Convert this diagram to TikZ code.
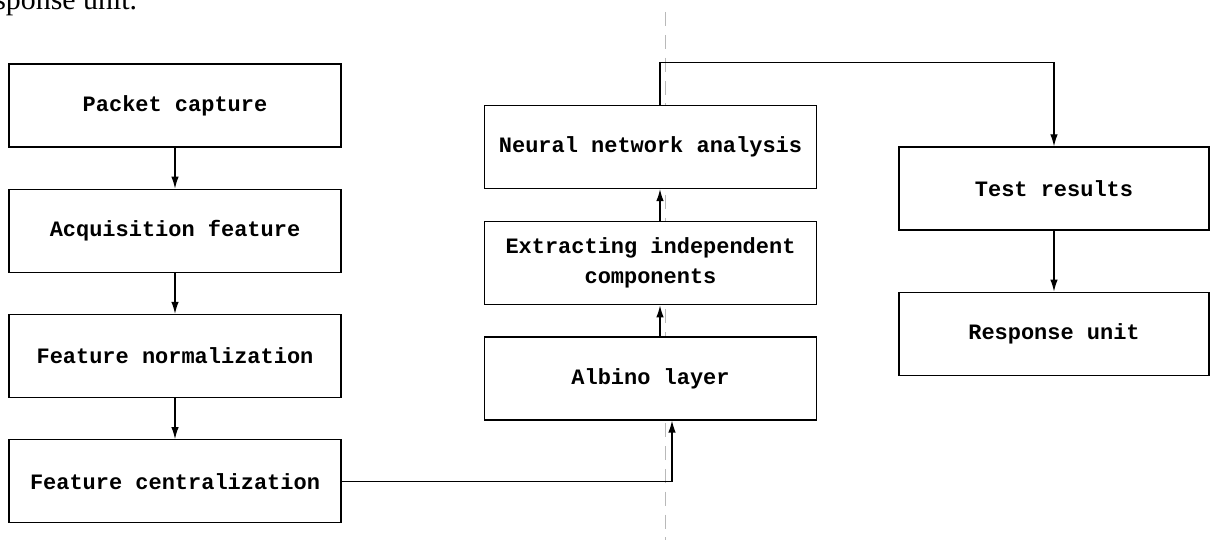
\documentclass[tikz,border=0pt]{standalone}
\usepackage{fontspec}
\setmonofont{Liberation Mono}
\newfontfamily\captionfont{Liberation Serif}
\usetikzlibrary{positioning, arrows.meta, calc}
\tikzset{node distance=0.82cm, % Gap between two boxes of a column
box/.style={ % Sets the properties for each step
draw, line width=0.7pt, fill=white,
minimum width=6.64cm, minimum height=1.66cm,
align=center,
font=\ttfamily\bfseries\fontsize{12.5}{17}\selectfont},
>={Latex[length=2.4mm,width=1.5mm]}, % Filled arrowheads
every edge/.style={ % Sets the properties for each connector
draw,->,line width=0.7pt}}

\begin{document}
\begin{tikzpicture}
    \useasboundingbox (0,0) rectangle (24.56,-10.8);

    \node[anchor=base west, font=\captionfont\fontsize{17}{20}\selectfont, inner sep=0pt] (cap) at (-0.12,-0.2) {sponse unit.};
    \draw[gray!55, line width=0.5pt, dash pattern=on 8pt off 5pt] (13.3,-0.24) -- (13.3,-10.8);

    \node[box] (pc) at (3.5,-2.11) {Packet capture};
    \node[box, below=of pc] (af) {Acquisition feature};
    \node[box, below=of af] (fn) {Feature normalization};
    \node[box, below=of fn] (fc) {Feature centralization};

    \node[box] (nn) at (13.01,-2.94) {Neural network analysis};
    \node[box, below=0.64cm of nn] (ic) {Extracting independent\\components};
    \node[box, below=0.62cm of ic] (ab) {Albino layer};

    \node[box, minimum width=6.2cm] (tr) at (21.08,-3.77) {Test results};
    \node[box, minimum width=6.2cm, below=1.22cm of tr] (ru) {Response unit};

    \coordinate (abin) at ($(ab.south)+(0.43,0)$);

    \draw (pc) edge (af);
    \draw (af) edge (fn);
    \draw (fn) edge (fc);
    \draw[->, line width=0.7pt] (fc.east) -| (abin);
    \draw ([xshift=0.19cm]ab.north) edge ([xshift=0.19cm]ic.south);
    \draw ([xshift=0.19cm]ic.north) edge ([xshift=0.19cm]nn.south);
    \draw[->, line width=0.7pt] ([xshift=0.19cm]nn.north) -- ++(0,0.84) -| (tr.north);
    \draw (tr) edge (ru);

\end{tikzpicture}
\end{document}
